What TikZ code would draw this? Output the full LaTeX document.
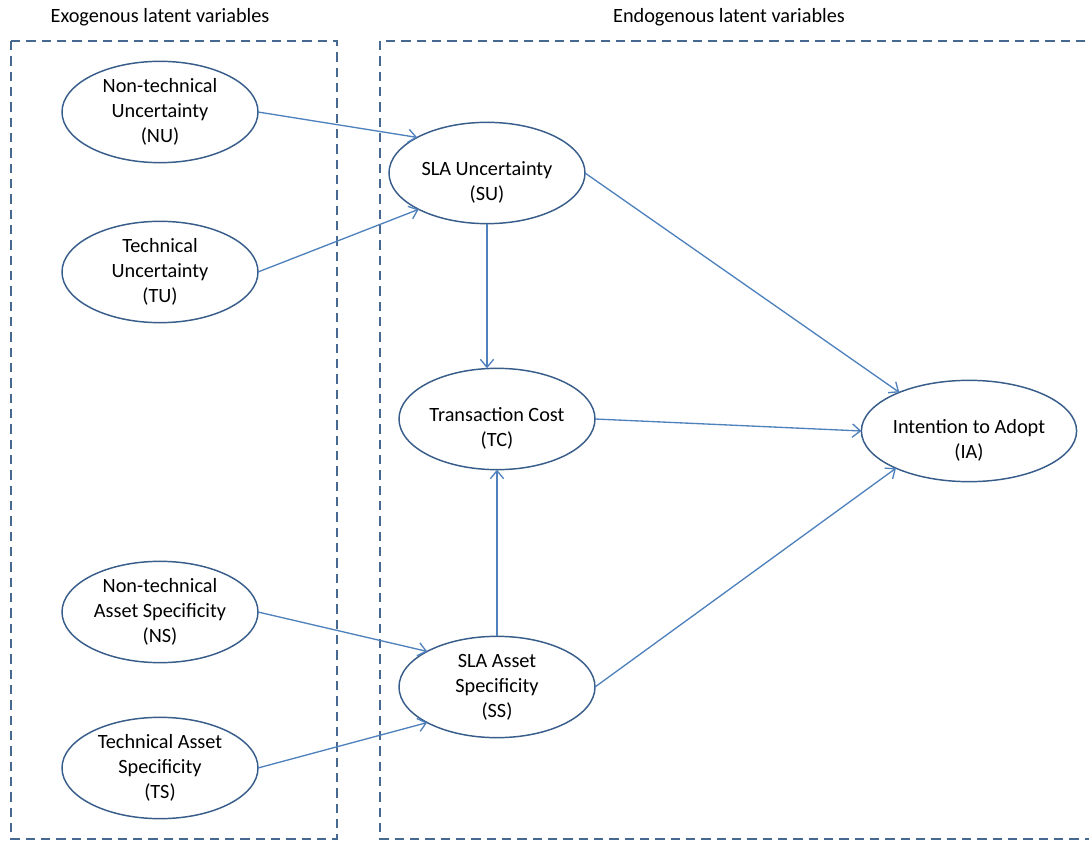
\documentclass[tikz,border=0pt]{standalone}
\usepackage{fontspec}
\setmainfont{Carlito}
\usetikzlibrary{arrows.meta,shapes.geometric}
\newcommand{\lowtext}{\rule{0pt}{25pt}}

\begin{document}
\begin{tikzpicture}[x=0.75pt,y=-0.75pt,>={Straight Barb[length=6pt,width=10pt]},
  latent/.style={ellipse,draw=ovalblue,line width=1.1pt,minimum width=147pt,minimum height=76pt,inner sep=0pt,outer sep=0pt,align=center,font=\fontsize{15.2}{18.75}\selectfont},
  link/.style={->,line width=1pt,draw=arrowblue},
  group/.style={draw=boxblue,line width=1.1pt,dash pattern=on 7pt off 4.5pt},
  grouptitle/.style={font=\fontsize{15.2}{18}\selectfont}]
\definecolor{ovalblue}{RGB}{56,93,138}
\definecolor{arrowblue}{RGB}{79,129,189}
\definecolor{boxblue}{RGB}{70,104,145}
\clip (0,0) rectangle (1089,841);
% the two groups
\node[grouptitle] (exo) at (160,17) {Exogenous latent variables};
\node[grouptitle] (endo) at (729,17) {Endogenous latent variables};
\draw[group] (11,41) rectangle (337,839);
\draw[group] (380,41) rectangle (1100,839);
% exogenous
\node[latent] (NU) at (160,112) {Non-technical\\Uncertainty\\(NU)};
\node[latent] (TU) at (160,272) {Technical\\Uncertainty\\(TU)};
\node[latent] (NS) at (160,612) {Non-technical\\Asset Specificity\\(NS)};
\node[latent] (TS) at (160,768) {Technical Asset\\Specificity\\(TS)};
% endogenous
\node[latent] (SU) at (487,173) {\lowtext SLA Uncertainty\\(SU)};
\node[latent] (TC) at (497,419) {\lowtext Transaction Cost\\(TC)};
\node[latent] (SS) at (497,687) {SLA Asset\\Specificity\\(SS)};
\node[latent] (IA) at (969,431) {\lowtext Intention to Adopt\\(IA)};
\draw[link] (NU.east) -- (SU.153);
\draw[link] (TU.east) -- (SU.208);
\draw[link] (NS.east) -- (SS.153);
\draw[link] (TS.east) -- (SS.207);
\draw[link] (SU.south) -- (SU.south |- TC.north);
\draw[link] (SS.north) -- (TC.south);
\draw[link] (SU.east) -- (IA.151);
\draw[link] (TC.east) -- (IA.west);
\draw[link] (SS.east) -- (IA.207);
\end{tikzpicture}
\end{document}
